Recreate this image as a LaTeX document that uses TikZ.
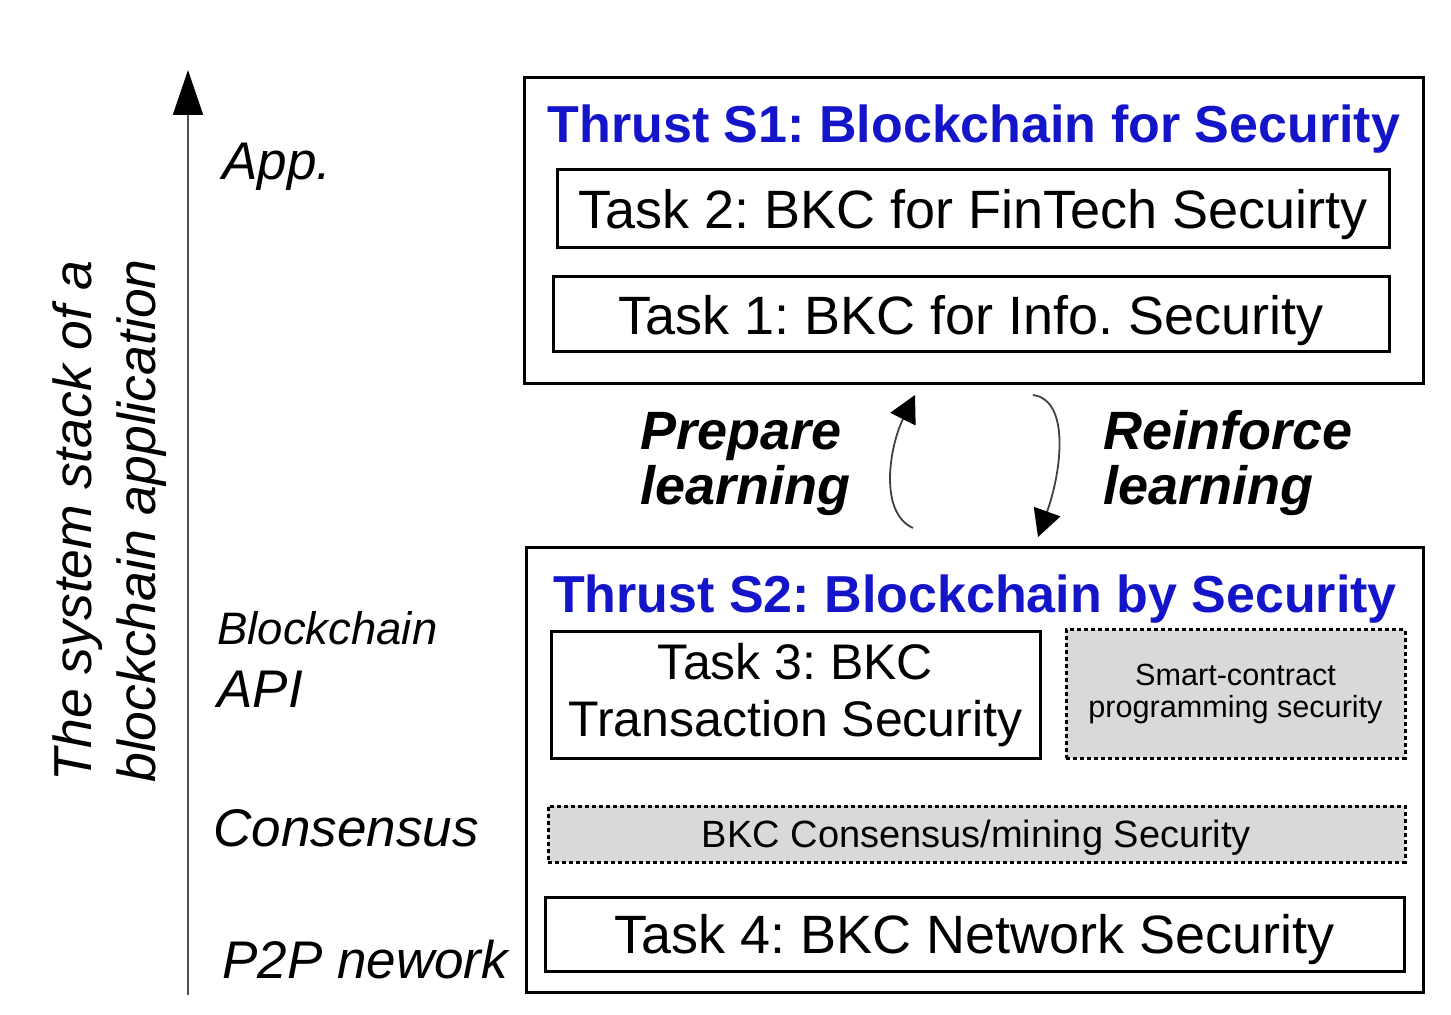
\documentclass[tikz,border=0pt]{standalone}
\usepackage{fontspec}
\setmainfont{Liberation Sans}
\usetikzlibrary{arrows.meta}
\definecolor{thrustblue}{RGB}{20,20,200}

\begin{document}
\frenchspacing
\begin{tikzpicture}[x=0.5pt, y=-0.5pt,
  outerbox/.style={rectangle, draw, line width=1.5pt, inner sep=0pt},
  taskbox/.style={rectangle, draw, line width=1.5pt, inner sep=0pt, font=\fontsize{27}{32}\selectfont},
  sharedbox/.style={rectangle, draw, fill=black!15, line width=1.5pt, dash pattern=on 2pt off 1.5pt, inner sep=0pt},
  thrusttitle/.style={anchor=base, inner sep=0pt, text=thrustblue, font=\bfseries\fontsize{26}{30}\selectfont},
  layerlbl/.style={anchor=base west, inner sep=0pt, font=\itshape\fontsize{26.5}{30}\selectfont},
  looplbl/.style={anchor=base west, inner sep=0pt, align=left, font=\bfseries\itshape\fontsize{27}{27.5}\selectfont}]
\useasboundingbox (0,0) rectangle (1451,1015);

% the stack axis on the left
\coordinate (axbot) at (188,995);
\coordinate (axtop) at (188,70);
\draw[black!70, line width=1pt, -{Triangle[length=22.5pt, width=15pt, black]}] (axbot) -- (axtop);
\node[rotate=90, align=center, inner sep=0pt, font=\itshape\fontsize{26.75}{32}\selectfont] (stack) at (110,521) {The system stack of a\\blockchain application};
\node[layerlbl] (app) at (222,180) {App.};
\node[layerlbl, font=\itshape\fontsize{22.75}{26}\selectfont] (bkc) at (217,645) {Blockchain};
\node[layerlbl] (api) at (217,707) {API};
\node[layerlbl] (cons) at (213,846) {Consensus};
\node[layerlbl] (p2p) at (222,978) {P2P nework};

% Thrust S1
\node[outerbox, minimum width=449.5pt, minimum height=153pt] (s1) at (973.5,231) {};
\node[thrusttitle] (s1title) at (974,143) {Thrust S1: Blockchain for Security};
\node[taskbox, text depth=0pt, minimum width=416pt, minimum height=39pt] (task2) at (973,209) {Task 2: BKC for FinTech Secuirty};
\node[taskbox, text depth=0pt, minimum width=418pt, minimum height=37.5pt] (task1) at (971,314.5) {Task 1: BKC for Info. Security};

% Thrust S2
\node[outerbox, minimum width=448.5pt, minimum height=222pt] (s2) at (974.5,770) {};
\node[thrusttitle] (s2title) at (975,612) {Thrust S2: Blockchain by Security};
\node[taskbox, align=center, font=\fontsize{25}{28.5}\selectfont, minimum width=244.5pt, minimum height=63pt] (task3) at (795.5,695) {Task 3: BKC\\Transaction Security};
\node[sharedbox, align=center, font=\fontsize{15.3}{16}\selectfont, minimum width=169.5pt, minimum height=64pt] (smart) at (1235.5,694) {Smart-contract\\programming security};
\node[sharedbox, text depth=0pt, font=\fontsize{19}{22}\selectfont, minimum width=428.5pt, minimum height=28pt] (mining) at (976.5,834) {BKC Consensus/mining Security};
\node[taskbox, text depth=0pt, minimum width=429.5pt, minimum height=37pt] (task4) at (974.5,934) {Task 4: BKC Network Security};

% learning loop between the thrusts
\coordinate (prepfrom) at (913,528);
\coordinate (prepto) at (915,395);
\coordinate (reinfrom) at (1033,395);
\coordinate (reinto) at (1038,537);
\draw[black!75, line width=0.9pt, -{Triangle[length=13.5pt, width=14pt, black]}] (prepfrom) .. controls (878,512) and (890,445) .. (prepto);
\draw[black!75, line width=0.9pt, -{Triangle[length=13.5pt, width=14pt, black]}] (reinfrom) .. controls (1070,400) and (1062,470) .. (reinto);
\node[looplbl] (prep) at (640,505) {Prepare\\learning};
\node[looplbl] (reinf) at (1103,505) {Reinforce\\learning};
\end{tikzpicture}
\end{document}
